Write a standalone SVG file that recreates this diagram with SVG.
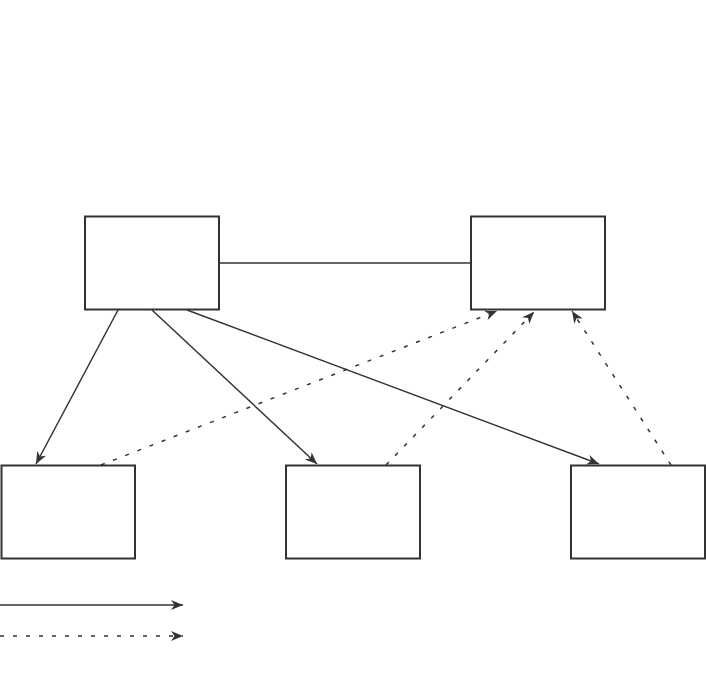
<svg xmlns="http://www.w3.org/2000/svg" width="706" height="674" viewBox="0 0 706 674">
<style>
.box{fill:#fff;stroke:#333;stroke-width:2}
.ln{fill:none;stroke:#333;stroke-width:1.5}
.dash{stroke-dasharray:4 9}
</style>
<defs>
<marker id="arr" markerUnits="userSpaceOnUse" markerWidth="14" markerHeight="12" refX="12" refY="5" orient="auto">
<path d="M0,0 L12,5 L0,10 L3.5,5 z" fill="#333"/>
</marker>
</defs>
<rect width="706" height="674" fill="#fff"/>
<g id="connectors">
<line class="ln" x1="219" y1="263" x2="471" y2="263"/>
<line class="ln" x1="118" y1="310" x2="36" y2="464" marker-end="url(#arr)"/>
<line class="ln" x1="152" y1="310" x2="317" y2="464" marker-end="url(#arr)"/>
<line class="ln" x1="187" y1="310" x2="599" y2="464" marker-end="url(#arr)"/>
<line class="ln dash" x1="101" y1="465" x2="497" y2="311" marker-end="url(#arr)"/>
<line class="ln dash" x1="386" y1="465" x2="534" y2="312" marker-end="url(#arr)"/>
<line class="ln dash" x1="671" y1="465" x2="572" y2="311" marker-end="url(#arr)"/>
<line class="ln" x1="0" y1="605" x2="183" y2="605" marker-end="url(#arr)"/>
<line class="ln dash" x1="0" y1="636" x2="183" y2="636" marker-end="url(#arr)"/>
</g>
<g id="nodeA"><rect class="box" x="85" y="216.5" width="134" height="93"/></g>
<g id="nodeB"><rect class="box" x="471" y="216.5" width="134" height="93"/></g>
<g id="nodeC"><rect class="box" x="1.5" y="465.5" width="133.5" height="93"/></g>
<g id="nodeD"><rect class="box" x="286" y="465.5" width="134" height="93"/></g>
<g id="nodeE"><rect class="box" x="571" y="465.5" width="134" height="93"/></g>
</svg>
